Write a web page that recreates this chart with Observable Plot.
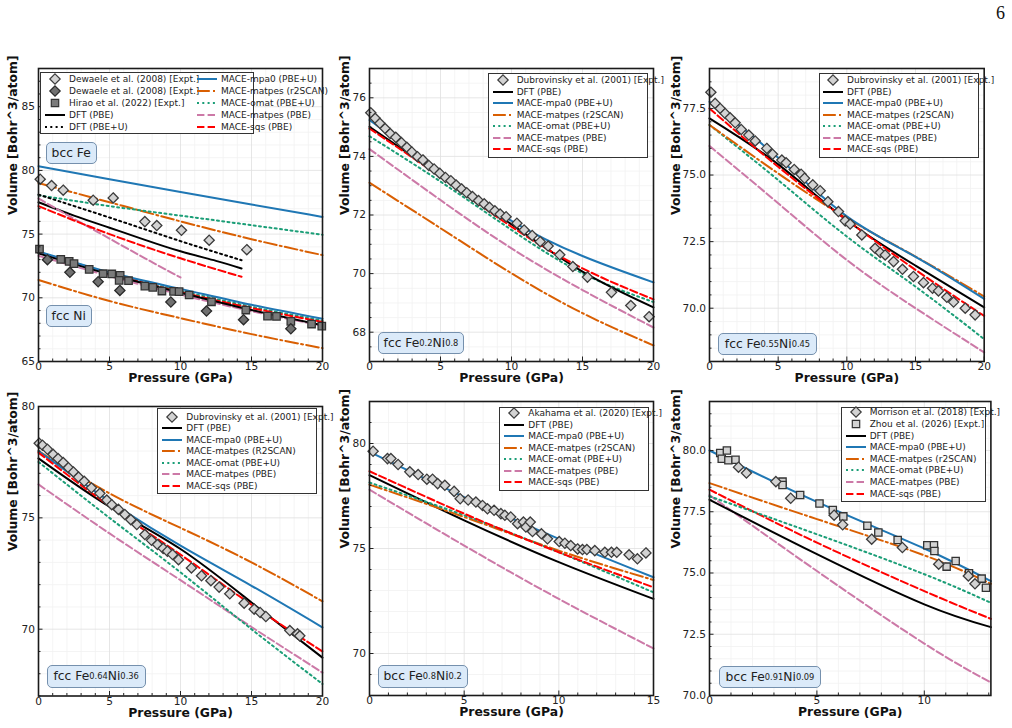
<!DOCTYPE html>
<html><head><meta charset="utf-8">
<script src="https://cdn.jsdelivr.net/npm/d3@7"></script>
<script src="https://cdn.jsdelivr.net/npm/@observablehq/plot@0.6"></script>
<style>
body{margin:0;background:#fff;}
#page{position:relative;width:1012px;height:728px;overflow:hidden;font-family:"DejaVu Sans",sans-serif;background:#fff;}
.plotwrap{position:absolute;}
.plotwrap svg{max-width:none;overflow:visible;display:block;}
.legend{position:absolute;background:#fff;border:1px solid #333;box-sizing:border-box;font-size:9px;color:#222;}
.legrow{position:absolute;white-space:nowrap;}
.legrow svg{position:absolute;overflow:visible;}
.legrow span{position:absolute;white-space:nowrap;line-height:12px;top:-6px;}
.tag{position:absolute;box-sizing:border-box;border:1px solid #7590ad;border-radius:5px;background:#dbeaf9;font-size:12.3px;color:#222;display:flex;align-items:center;justify-content:center;white-space:nowrap;}
.tag sub{font-size:8.3px;vertical-align:-3.5px;line-height:0;}
#pagenum{position:absolute;left:996px;top:3px;font-family:"Liberation Serif",serif;font-size:18px;color:#111;}
</style></head><body><div id="page"><div id="pagenum">6</div></div>
<script>
// ---------------- DATA ----------------
// Panel 1: bcc Fe (upper group) and fcc Ni (lower group)
const p1Grid = [0, 5, 10, 15, 20];
const feMpa0 = [80.33, 79.3, 78.3, 77.32, 76.35];
const feR2scan = [79.0, 77.5, 76.0, 74.6, 73.35];
const feOmat = [78.05, 77.2, 76.45, 75.7, 74.95];
const feDftGrid = [0, 2.5, 5, 7.5, 10, 12.5, 14.3];
const feDft = [77.5, 76.45, 75.5, 74.55, 73.65, 72.9, 72.3];
const feDftUGrid = [0, 5, 10, 14.3];
const feDftU = [78.1, 76.3, 74.45, 72.95];
const feMatpesGrid = [0, 2.5, 5, 7.5, 10];
const feMatpes = [77.8, 76.2, 74.65, 73.1, 71.6];
const feSqsGrid = [0, 5, 10, 14.3];
const feSqs = [77.2, 75.0, 73.1, 71.65];
const niMpa0 = [73.65, 72.0, 70.7, 69.45, 68.35];
const niDft = [73.5, 71.85, 70.4, 69.05, 67.85];
const niSqs = [73.55, 71.9, 70.45, 69.2, 68.1];
const niOmat = [73.6, 71.95, 70.55, 69.3, 68.2];
const niMatpes = [73.3, 71.7, 70.25, 68.95, 67.8];
const niR2scan = [71.4, 69.75, 68.4, 67.15, 66.05];
const dewaeleFe = [[0.12,79.31],[0.92,78.81],[1.74,78.45],[3.85,77.66],[5.26,77.84],[7.49,75.98],[8.33,75.67],[10.07,75.3],[12.02,74.52],[14.67,73.78]];
const dewaeleNi = [[0.63,72.99],[2.21,72.0],[4.2,71.26],[5.73,70.58],[9.32,69.67],[11.83,68.96],[14.44,68.28],[17.77,67.57]];
const hiraoNi = [[0.07,73.83],[1.57,73.02],[2.16,72.86],[2.5,72.68],[3.57,72.23],[4.55,71.89],[5.16,71.87],[5.75,71.76],[5.68,71.37],[6.34,71.34],[7.49,70.92],[8.05,70.82],[8.69,70.53],[9.51,70.5],[9.9,70.48],[10.61,70.22],[12.18,69.69],[14.6,69.04],[16.13,68.56],[16.76,68.54],[17.77,68.15],[19.23,67.94],[19.95,67.78]];

// Panel 2: fcc Fe0.2Ni0.8
const p2Grid = [0, 5, 10, 15, 20];
const p2Dft = [75.01, 73.35, 71.68, 70.07, 68.85];
const p2Mpa0 = [75.24, 73.45, 71.8, 70.6, 69.7];
const p2R2scan = [73.1, 71.55, 70.01, 68.65, 67.55];
const p2Omat = [74.69, 73.14, 71.49, 70.01, 69.03];
const p2Matpes = [74.25, 72.51, 70.86, 69.44, 68.16];
const p2Sqs = [74.95, 73.3, 71.6, 70.18, 69.12];
const p2Expt = [[0.09,75.49],[0.4,75.3],[0.73,75.13],[1.1,74.95],[1.46,74.78],[1.85,74.65],[2.25,74.47],[2.63,74.31],[2.98,74.15],[3.38,73.99],[3.76,73.88],[4.18,73.69],[4.55,73.57],[4.95,73.42],[5.35,73.28],[5.73,73.17],[6.1,73.02],[6.48,72.89],[6.85,72.76],[7.25,72.63],[7.68,72.49],[8.08,72.38],[8.45,72.26],[8.83,72.14],[9.2,72.03],[9.62,71.94],[10.38,71.72],[10.89,71.49],[11.46,71.3],[12.02,71.09],[12.58,70.94],[13.4,70.64],[14.32,70.24],[15.35,69.88],[17.04,69.36],[18.4,68.91],[19.69,68.53]];

// Panel 3: fcc Fe0.55Ni0.45
const p3Grid = [0, 5, 10, 15, 20];
const p3Dft = [77.13, 75.4, 73.3, 71.6, 70.03];
const p3Mpa0 = [77.75, 75.65, 73.45, 71.93, 70.35];
const p3R2scan = [76.88, 75.06, 73.38, 71.94, 70.44];
const p3Omat = [76.88, 74.81, 72.69, 70.81, 68.84];
const p3Matpes = [76.09, 73.94, 71.81, 70.0, 68.34];
const p3Sqs = [77.5, 75.31, 73.31, 71.44, 69.71];
const p3Expt = [[0.1,78.11],[0.41,77.69],[0.78,77.5],[1.14,77.31],[1.5,77.15],[1.87,76.96],[2.31,76.71],[2.86,76.5],[3.33,76.28],[4.17,76.0],[4.59,75.78],[5.27,75.56],[5.58,75.46],[6.17,75.21],[6.67,75.03],[6.92,74.88],[7.52,74.63],[8.06,74.41],[8.62,74.0],[9.39,73.63],[9.88,73.28],[10.24,73.16],[11.09,72.75],[12.06,72.25],[12.43,72.09],[12.79,72.0],[13.4,71.75],[14.05,71.46],[14.85,71.19],[15.58,70.96],[16.24,70.75],[16.67,70.65],[17.28,70.41],[17.77,70.23],[18.62,70.0],[19.34,69.75]];

// Panel 4: fcc Fe0.64Ni0.36
const p4Grid = [0, 5, 10, 15, 20];
const p4Dft = [77.67, 75.5, 73.6, 71.2, 68.72];
const p4Mpa0 = [78.0, 75.75, 73.75, 71.95, 70.08];
const p4R2scan = [78.0, 76.1, 74.55, 73.0, 71.25];
const p4Omat = [77.51, 75.0, 72.55, 70.0, 67.54];
const p4Matpes = [76.5, 74.3, 72.2, 70.1, 68.05];
const p4Sqs = [77.93, 75.53, 73.35, 71.1, 69.0];
const p4Expt = [[0.05,78.35],[0.28,78.26],[0.63,78.08],[1.03,77.85],[1.38,77.66],[1.74,77.48],[2.11,77.25],[2.46,77.06],[2.82,76.83],[3.22,76.64],[3.73,76.35],[4.32,76.1],[4.81,75.8],[5.16,75.59],[5.63,75.38],[6.08,75.15],[6.5,74.92],[6.92,74.7],[7.49,74.25],[7.96,73.99],[8.38,73.8],[8.78,73.63],[9.08,73.5],[9.44,73.35],[9.86,73.12],[10.77,72.75],[11.48,72.4],[12.14,72.18],[12.72,71.89],[13.47,71.59],[14.48,71.17],[15.19,70.9],[15.61,70.75],[16.01,70.57],[17.7,69.94],[18.24,69.79],[18.4,69.7]];

// Panel 5: bcc Fe0.8Ni0.2
const p5Grid = [0, 5, 10, 15];
const p5Dft = [78.49, 76.34, 74.35, 72.6];
const p5Mpa0 = [79.6, 77.45, 75.46, 73.63];
const p5R2scan = [78.04, 76.5, 74.9, 73.5];
const p5Omat = [78.14, 76.58, 74.82, 72.91];
const p5Matpes = [77.8, 75.14, 72.6, 70.24];
const p5Sqs = [78.68, 76.66, 74.82, 73.15];
const p5Expt = [[0.19,79.63],[0.95,79.28],[1.13,79.28],[1.51,79.0],[2.13,78.65],[2.57,78.52],[3.03,78.3],[3.33,78.3],[3.6,78.09],[3.98,78.01],[4.47,77.72],[4.79,77.37],[5.21,77.31],[5.62,77.21],[5.97,77.05],[6.23,76.89],[6.58,76.82],[6.94,76.66],[7.15,76.58],[7.46,76.5],[7.82,76.18],[8.13,76.26],[8.26,76.02],[8.49,76.26],[8.61,75.81],[9.08,75.7],[9.4,75.46],[10.02,75.33],[10.32,75.25],[10.63,75.14],[10.99,74.98],[11.25,74.95],[11.48,74.95],[11.9,74.9],[12.43,74.82],[12.78,74.82],[13.06,74.82],[13.71,74.7],[14.15,74.51],[14.6,74.79]];

// Panel 6: bcc Fe0.91Ni0.09
const p6Grid = [0, 5, 10, 13.1];
const p6Dft = [77.99, 75.77, 73.72, 72.79];
const p6Mpa0 = [80.0, 77.9, 76.0, 74.67];
const p6R2scan = [78.67, 77.2, 75.72, 74.56];
const p6Omat = [78.13, 76.58, 74.95, 73.78];
const p6Matpes = [78.18, 75.08, 72.12, 70.53];
const p6Sqs = [78.4, 76.24, 74.26, 73.13];
const morrisonExpt = [[1.35,79.32],[1.72,79.08],[3.09,78.73],[3.78,78.05],[5.8,77.36],[6.2,76.97],[7.55,76.38],[8.98,76.04],[10.67,75.36],[12.05,74.88],[12.36,74.56]];
const zhouExpt = [[0.5,79.9],[0.57,79.66],[0.81,80.0],[0.88,79.6],[1.21,79.62],[3.4,78.73],[3.4,78.59],[4.22,78.18],[5.12,77.84],[5.74,77.57],[6.23,77.31],[7.35,76.93],[7.86,76.65],[8.76,76.35],[10.14,76.13],[10.45,76.13],[10.47,75.9],[11.04,75.26],[11.46,75.49],[12.08,74.99],[12.67,74.77],[12.87,74.4]];

// Tick labels
const xTicks20 = [0, 5, 10, 15, 20];
const xTicks15 = [0, 5, 10, 15];
const xTicks13 = [0, 5, 10];
const yTicksP1 = [65, 70, 75, 80, 85];
const yTicksP2 = [68, 70, 72, 74, 76];
const yTicksP3 = [70, 72.5, 75, 77.5];
const yTicksP4 = [70, 75, 80];
const yTicksP5 = [70, 75, 80];
const yTicksP6 = [70, 72.5, 75, 77.5, 80];

// ---------------- STYLES ----------------
const styles = {
  dft:    {type: "line", color: "#000000"},
  dftU:   {type: "line", color: "#000000", dash: "2,3.3"},
  mpa0:   {type: "line", color: "#1f77b4"},
  r2:     {type: "line", color: "#d95f02", dash: "12.8,3.2,2,3.2"},
  omat:   {type: "line", color: "#1b9e77", dash: "2,3.3"},
  matpes: {type: "line", color: "#cc79a7", dash: "7.4,3.2"},
  sqs:    {type: "line", color: "#ff0000", dash: "7.4,3.2"},
  lightD: {type: "dot", symbol: "diamond2", r: 4.6, fill: "#d3d3d3", stroke: "#3c3c3c"},
  darkD:  {type: "dot", symbol: "diamond2", r: 4.6, fill: "#707070", stroke: "#2a2a2a"},
  darkS:  {type: "dot", symbol: "square", r: 4.2, fill: "#7a7a7a", stroke: "#333333"},
  lightS: {type: "dot", symbol: "square", r: 4.1, fill: "#d3d3d3", stroke: "#333333"}
};

const stdLegend = (exptLabel, r2Label) => [
  ["lightD", exptLabel], ["dft", "DFT (PBE)"], ["mpa0", "MACE-mpa0 (PBE+U)"],
  ["r2", r2Label || "MACE-matpes (r2SCAN)"], ["omat", "MACE-omat (PBE+U)"],
  ["matpes", "MACE-matpes (PBE)"], ["sqs", "MACE-sqs (PBE)"]
];

const minor = (lo, hi, step, majors) => d3.range(lo, hi + 1e-9, step).map(v => +v.toFixed(3)).filter(v => !majors.some(m => Math.abs(m - v) < 1e-6));

const panels = [
  {
    frame: [37.7, 68, 321.7, 361], x: [0, 20], y: [65, 88], xTicks: xTicks20, yTicks: yTicksP1,
    xMinor: minor(0, 20, 1, xTicks20), yMinor: minor(65, 88, 1, yTicksP1), yLabDx: -25,
    lines: [[p1Grid, feMpa0, "mpa0"], [p1Grid, feR2scan, "r2"], [p1Grid, feOmat, "omat"], [feDftGrid, feDft, "dft"], [feDftUGrid, feDftU, "dftU"], [feMatpesGrid, feMatpes, "matpes"], [feSqsGrid, feSqs, "sqs"],
            [p1Grid, niR2scan, "r2"], [p1Grid, niMatpes, "matpes"], [p1Grid, niOmat, "omat"], [p1Grid, niSqs, "sqs"], [p1Grid, niDft, "dft"], [p1Grid, niMpa0, "mpa0"]],
    points: [[dewaeleFe, "lightD"], [hiraoNi, "darkS"], [dewaeleNi, "darkD"]],
    legend: {box: [40, 71.7, 214, 62.5], first: 7.6, step: 11.9, cols: [
      {x: 0, rows: [["lightD", "Dewaele et al. (2008) [Expt.]"], ["darkD", "Dewaele et al. (2008) [Expt.]"], ["darkS", "Hirao et al. (2022) [Expt.]"], ["dft", "DFT (PBE)"], ["dftU", "DFT (PBE+U)"]]},
      {x: 152, rows: [["mpa0", "MACE-mpa0 (PBE+U)"], ["r2", "MACE-matpes (r2SCAN)"], ["omat", "MACE-omat (PBE+U)"], ["matpes", "MACE-matpes (PBE)"], ["sqs", "MACE-sqs (PBE)"]]}]},
    tags: [{box: [45.7, 141.7, 51, 22], html: "bcc Fe"}, {box: [46, 305, 45.5, 22], html: "fcc Ni"}]
  },
  {
    frame: [368.7, 68, 652.7, 361], x: [0, 20], y: [67, 77], xTicks: xTicks20, yTicks: yTicksP2,
    xMinor: minor(0, 20, 1, xTicks20), yMinor: minor(67, 77, 0.5, yTicksP2), yLabDx: -24,
    lines: [[p2Grid, p2R2scan, "r2"], [p2Grid, p2Matpes, "matpes"], [p2Grid, p2Omat, "omat"], [p2Grid, p2Mpa0, "mpa0"], [p2Grid, p2Dft, "dft"], [p2Grid, p2Sqs, "sqs"]],
    points: [[p2Expt, "lightD"]],
    legend: {box: [487.7, 72.7, 160.6, 85], first: 7.3, step: 11.56, cols: [{x: 0, rows: stdLegend("Dubrovinsky et al. (2001) [Expt.]")}]},
    tags: [{box: [377.7, 331.7, 86.6, 22.3], html: "fcc Fe<sub>0.2</sub>Ni<sub>0.8</sub>"}]
  },
  {
    frame: [709.3, 68, 984, 361], x: [0, 20], y: [68, 79], xTicks: xTicks20, yTicks: yTicksP3, yFormat: d3.format(".1f"),
    xMinor: minor(0, 20, 1, xTicks20), yMinor: minor(68, 79, 0.5, yTicksP3), yLabDx: -33,
    lines: [[p3Grid, p3Matpes, "matpes"], [p3Grid, p3Omat, "omat"], [p3Grid, p3R2scan, "r2"], [p3Grid, p3Mpa0, "mpa0"], [p3Grid, p3Dft, "dft"], [p3Grid, p3Sqs, "sqs"]],
    points: [[p3Expt, "lightD"]],
    legend: {box: [819, 72.7, 160.3, 85.3], first: 7.3, step: 11.56, cols: [{x: -1, rows: stdLegend("Dubrovinsky et al. (2001) [Expt.]")}]},
    tags: [{box: [718.3, 332.7, 98.4, 22.3], html: "fcc Fe<sub>0.55</sub>Ni<sub>0.45</sub>"}]
  },
  {
    frame: [37.7, 405.5, 321.7, 695], x: [0, 20], y: [67, 80], xTicks: xTicks20, yTicks: yTicksP4,
    xMinor: minor(0, 20, 1, xTicks20), yMinor: minor(67, 80, 1, yTicksP4), yLabDx: -25,
    lines: [[p4Grid, p4Matpes, "matpes"], [p4Grid, p4Omat, "omat"], [p4Grid, p4R2scan, "r2"], [p4Grid, p4Mpa0, "mpa0"], [p4Grid, p4Dft, "dft"], [p4Grid, p4Sqs, "sqs"]],
    points: [[p4Expt, "lightD"]],
    legend: {box: [157.3, 408.3, 160, 86], first: 8.4, step: 11.5, cols: [{x: 0, rows: stdLegend("Dubrovinsky et al. (2001) [Expt.]", "MACE-matpes (R2SCAN)")}]},
    tags: [{box: [46.7, 665, 99, 22.7], html: "fcc Fe<sub>0.64</sub>Ni<sub>0.36</sub>"}]
  },
  {
    frame: [368.7, 401, 652.7, 695], x: [0, 15], y: [68, 82], xTicks: xTicks15, yTicks: yTicksP5,
    xMinor: minor(0, 15, 1, xTicks15), yMinor: minor(68, 82, 1, yTicksP5), yLabDx: -24,
    lines: [[p5Grid, p5Matpes, "matpes"], [p5Grid, p5Dft, "dft"], [p5Grid, p5R2scan, "r2"], [p5Grid, p5Omat, "omat"], [p5Grid, p5Sqs, "sqs"], [p5Grid, p5Mpa0, "mpa0"]],
    points: [[p5Expt, "lightD"]],
    legend: {box: [499.3, 406.7, 150, 84.3], first: 6.6, step: 11.5, cols: [{x: 0, rows: stdLegend("Akahama et al. (2020) [Expt.]")}]},
    tags: [{box: [377.7, 665, 90, 22.7], html: "bcc Fe<sub>0.8</sub>Ni<sub>0.2</sub>"}]
  },
  {
    frame: [709.3, 401, 990.7, 695], x: [0, 13.1], y: [70, 82], xTicks: xTicks13, yTicks: yTicksP6, yFormat: d3.format(".1f"),
    xMinor: minor(0, 13, 1, xTicks13), yMinor: minor(70, 82, 0.5, yTicksP6), yLabDx: -33,
    lines: [[p6Grid, p6Matpes, "matpes"], [p6Grid, p6Dft, "dft"], [p6Grid, p6Sqs, "sqs"], [p6Grid, p6Omat, "omat"], [p6Grid, p6R2scan, "r2"], [p6Grid, p6Mpa0, "mpa0"]],
    points: [[zhouExpt, "lightS"], [morrisonExpt, "lightD"]],
    legend: {box: [840.7, 406.7, 145.3, 95.6], first: 5.8, step: 11.6, cols: [{x: 0, rows: [["lightD", "Morrison et al. (2018) [Expt.]"], ["lightS", "Zhou et al. (2026) [Expt.]"], ...stdLegend("").slice(1)]}]},
    tags: [{box: [719, 665.7, 102, 22], html: "bcc Fe<sub>0.91</sub>Ni<sub>0.09</sub>"}]
  }
];

const page = document.getElementById("page");

function swatchSVG(key) {
  const s = styles[key];
  if (s.type === "line") {
    return `<svg width="22" height="10" style="left:4px;top:-5px"><line x1="0" x2="20" y1="5" y2="5" stroke="${s.color}" stroke-width="2"${s.dash ? ` stroke-dasharray="${s.dash}"` : ""}/></svg>`;
  }
  let path;
  if (s.symbol === "diamond2") { const h = 5.2; path = `M14,${5 - h}L${14 + h},5L14,${5 + h}L${14 - h},5Z`; }
  else { const h = 3.7; path = `M${14 - h},${5 - h}H${14 + h}V${5 + h}H${14 - h}Z`; }
  return `<svg width="24" height="10" style="left:0px;top:-5px"><path d="${path}" fill="${s.fill}" stroke="${s.stroke}" stroke-width="1.2"/></svg>`;
}

function renderPanel(cfg) {
  const [fl, ft, fr, fb] = cfg.frame;
  const ml = 50, mr = 12, mt = 8, mb = 40;
  const W = fr - fl + ml + mr, H = fb - ft + mt + mb;
  const marks = [
    Plot.gridX(cfg.xMinor, {stroke: "#f1f1f1", strokeOpacity: 1, strokeWidth: 0.8}),
    Plot.gridY(cfg.yMinor, {stroke: "#f1f1f1", strokeOpacity: 1, strokeWidth: 0.8}),
    Plot.gridX(cfg.xTicks, {stroke: "#e0e0e0", strokeOpacity: 1, strokeWidth: 0.8}),
    Plot.gridY(cfg.yTicks, {stroke: "#e0e0e0", strokeOpacity: 1, strokeWidth: 0.8})
  ];
  for (const [xs, ys, key] of cfg.lines) {
    const s = styles[key];
    const opts = {x: "x", y: "y", curve: "natural", stroke: s.color, strokeWidth: 2};
    if (s.dash) opts.strokeDasharray = s.dash;
    marks.push(Plot.line(xs.map((x, i) => ({x, y: ys[i]})), opts));
  }
  for (const [pts, key] of cfg.points) {
    const s = styles[key];
    marks.push(Plot.dot(pts, {x: d => d[0], y: d => d[1], symbol: s.symbol, r: s.r, fill: s.fill, stroke: s.stroke, strokeWidth: 1.3}));
  }
  marks.push(
    Plot.axisX(cfg.xMinor, {tickSize: -2.5, tickFormat: () => "", label: null, stroke: "#222"}),
    Plot.axisY(cfg.yMinor, {tickSize: -2.5, tickFormat: () => "", label: null, stroke: "#222"}),
    Plot.axisX(cfg.xTicks, {tickSize: -4.5, tickPadding: 5.5, label: null, stroke: "#222", fill: "#222"}),
    Plot.axisY(cfg.yTicks, {tickSize: -4.5, tickPadding: 8, label: null, stroke: "#222", fill: "#222", tickFormat: cfg.yFormat || (d => String(d))}),
    Plot.frame({stroke: "#1a1a1a", strokeWidth: 1.6}),
    Plot.text(["Pressure (GPa)"], {text: d => d, frameAnchor: "bottom", dy: 20.5, fontWeight: "bold", fontSize: 12.4, fill: "#111"}),
    Plot.text(["Volume [Bohr^3/atom]"], {text: d => d, frameAnchor: "left", dx: cfg.yLabDx, rotate: -90, fontWeight: "bold", fontSize: 12.4, fill: "#111"})
  );
  const svg = Plot.plot({
    width: W, height: H, marginLeft: ml, marginRight: mr, marginTop: mt, marginBottom: mb,
    style: {background: "transparent", overflow: "visible", fontFamily: "DejaVu Sans", fontSize: "10.6px", color: "#222"},
    x: {domain: cfg.x}, y: {domain: cfg.y},
    marks
  });
  const wrap = document.createElement("div");
  wrap.className = "plotwrap";
  wrap.style.left = (fl - ml) + "px";
  wrap.style.top = (ft - mt) + "px";
  wrap.style.width = W + "px";
  wrap.appendChild(svg);
  page.appendChild(wrap);

  const lg = cfg.legend;
  const box = document.createElement("div");
  box.className = "legend";
  Object.assign(box.style, {left: lg.box[0] + "px", top: lg.box[1] + "px", width: lg.box[2] + "px", height: lg.box[3] + "px"});
  for (const col of lg.cols) {
    col.rows.forEach(([key, label], i) => {
      const row = document.createElement("div");
      row.className = "legrow";
      row.style.left = col.x + "px";
      row.style.top = (lg.first + i * lg.step - 1) + "px";
      row.innerHTML = swatchSVG(key) + `<span style="left:28px">${label}</span>`;
      box.appendChild(row);
    });
  }
  page.appendChild(box);

  for (const t of cfg.tags) {
    const d = document.createElement("div");
    d.className = "tag";
    Object.assign(d.style, {left: t.box[0] + "px", top: t.box[1] + "px", width: t.box[2] + "px", height: t.box[3] + "px"});
    d.innerHTML = t.html;
    page.appendChild(d);
  }
}

panels.forEach(renderPanel);
</script></body></html>
